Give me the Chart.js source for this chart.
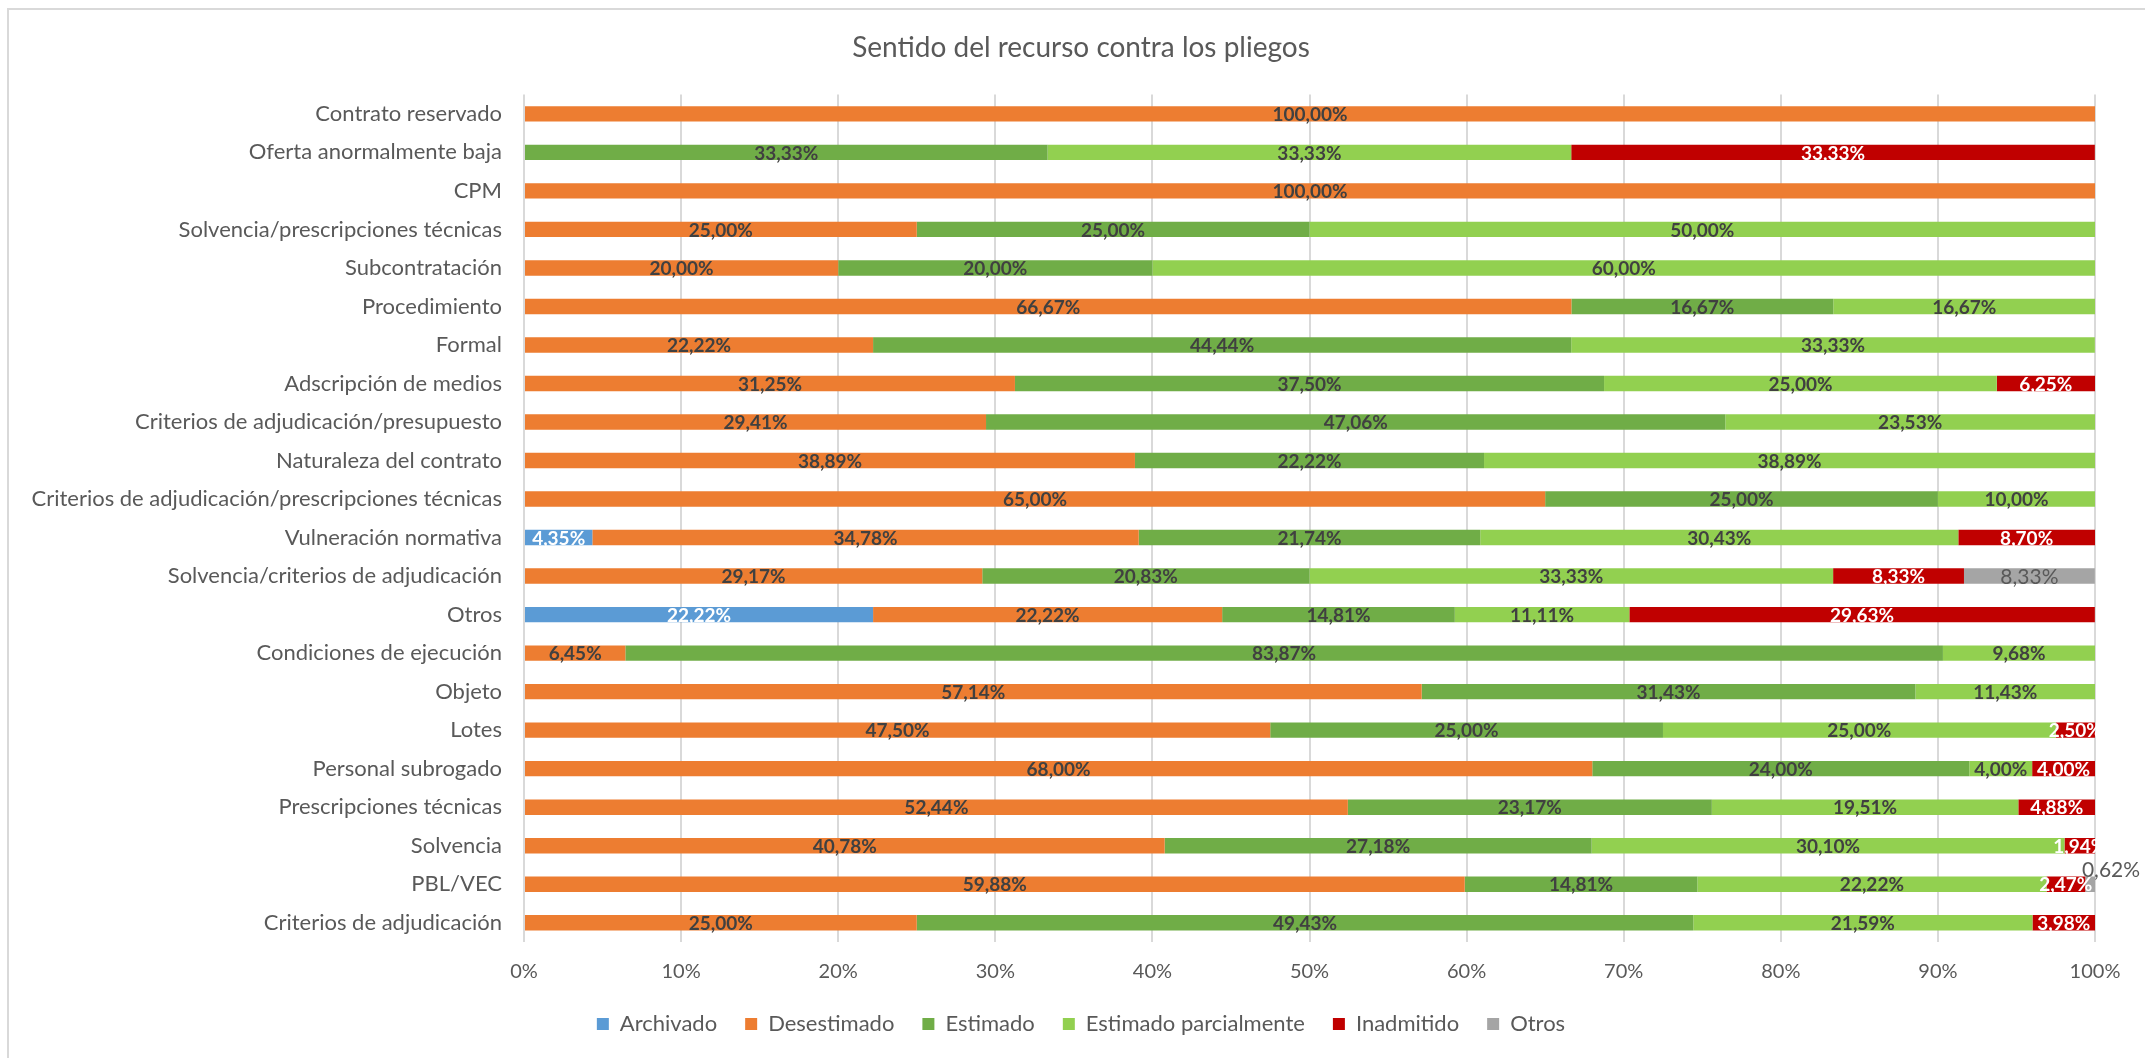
<!DOCTYPE html>
<html>
<head>
<meta charset="utf-8">
<script src="https://cdn.jsdelivr.net/npm/chart.js@4.4.1/dist/chart.umd.min.js"></script>
<style>
	html, body { margin: 0; padding: 0; background: #fff; }
	#marco { position: absolute; left: 7px; top: 8px; width: 2200px; height: 1100px; border-top: 2px solid #d9d9d9; border-left: 2px solid #d9d9d9; }
	#myChart { position: absolute; left: 0; top: 0; }
</style>
</head>
<body>
<div id="marco"></div>
<canvas id="myChart" width="2145" height="1058"></canvas>
<script>
// categorias (de arriba a abajo)
const categorias = [
	'Contrato reservado', 'Oferta anormalmente baja', 'CPM', 'Solvencia/prescripciones técnicas',
	'Subcontratación', 'Procedimiento', 'Formal', 'Adscripción de medios',
	'Criterios de adjudicación/presupuesto', 'Naturaleza del contrato',
	'Criterios de adjudicación/prescripciones técnicas', 'Vulneración normativa',
	'Solvencia/criterios de adjudicación', 'Otros', 'Condiciones de ejecución', 'Objeto',
	'Lotes', 'Personal subrogado', 'Prescripciones técnicas', 'Solvencia', 'PBL/VEC',
	'Criterios de adjudicación'
];

const archivado   = [0, 0, 0, 0, 0, 0, 0, 0, 0, 0, 0, 4.35, 0, 22.22, 0, 0, 0, 0, 0, 0, 0, 0];
const desestimado = [100, 0, 100, 25, 20, 66.67, 22.22, 31.25, 29.41, 38.89, 65, 34.78, 29.17, 22.22, 6.45, 57.14, 47.5, 68, 52.44, 40.78, 59.88, 25];
const estimado    = [0, 33.33, 0, 25, 20, 16.67, 44.44, 37.5, 47.06, 22.22, 25, 21.74, 20.83, 14.81, 83.87, 31.43, 25, 24, 23.17, 27.18, 14.81, 49.43];
const estimadoParcial = [0, 33.33, 0, 50, 60, 16.67, 33.33, 25, 23.53, 38.89, 10, 30.43, 33.33, 11.11, 9.68, 11.43, 25, 4, 19.51, 30.1, 22.22, 21.59];
const inadmitido  = [0, 33.33, 0, 0, 0, 0, 0, 6.25, 0, 0, 0, 8.7, 8.33, 29.63, 0, 0, 2.5, 4, 4.88, 1.94, 2.47, 3.98];
const otros       = [0, 0, 0, 0, 0, 0, 0, 0, 0, 0, 0, 0, 8.33, 0, 0, 0, 0, 0, 0, 0, 0.62, 0];

const ticksX = [0, 10, 20, 30, 40, 50, 60, 70, 80, 90, 100];

const gris = '#595959';

Chart.defaults.font.family = 'Lato';
Chart.defaults.color = gris;

// etiquetas de los segmentos (sin plugin externo)
const etiquetas = {
	id: 'etiquetas',
	afterDatasetsDraw(chart) {
		const ctx = chart.ctx;
		ctx.save();
		ctx.textAlign = 'center';
		ctx.textBaseline = 'middle';
		chart.data.datasets.forEach((ds, i) => {
			const meta = chart.getDatasetMeta(i);
			meta.data.forEach((bar, j) => {
				const v = ds.data[j];
				if (!v) return;
				const txt = v.toFixed(2).replace('.', ',') + '%';
				let x = (bar.x + bar.base) / 2;
				let y = bar.y;
				if (ds.label === 'Otros') {
					ctx.font = '21px Lato';
					ctx.fillStyle = gris;
					if (v < 1) { x = bar.x + 16; y = bar.y - 15; }
				} else {
					ctx.font = 'bold 19px Lato';
					ctx.fillStyle = ds.colorEtiqueta;
				}
				ctx.fillText(txt, x, y + 1);
			});
		});
		ctx.restore();
	}
};

const ctx = document.getElementById('myChart');

new Chart(ctx, {
	type: 'bar',
	data: {
		labels: categorias,
		datasets: [
			{ label: 'Archivado', data: archivado, backgroundColor: '#5B9BD5', colorEtiqueta: '#ffffff' },
			{ label: 'Desestimado', data: desestimado, backgroundColor: '#ED7D31', colorEtiqueta: '#404040' },
			{ label: 'Estimado', data: estimado, backgroundColor: '#70AD47', colorEtiqueta: '#404040' },
			{ label: 'Estimado parcialmente', data: estimadoParcial, backgroundColor: '#92D050', colorEtiqueta: '#404040' },
			{ label: 'Inadmitido', data: inadmitido, backgroundColor: '#C00000', colorEtiqueta: '#ffffff' },
			{ label: 'Otros', data: otros, backgroundColor: '#A5A5A5', colorEtiqueta: gris }
		]
	},
	options: {
		indexAxis: 'y',
		responsive: false,
		animation: false,
		barPercentage: 0.4,
		categoryPercentage: 1,
		layout: { padding: { left: 20, right: 3, top: 0, bottom: 13 } },
		plugins: {
			title: {
				display: true,
				text: 'Sentido del recurso contra los pliegos',
				color: gris,
				font: { size: 28, weight: 'normal' },
				padding: { top: 31, bottom: 30 }
			},
			legend: {
				position: 'bottom',
				labels: { boxWidth: 12, boxHeight: 12, padding: 28, color: gris, font: { size: 22 } }
			},
			tooltip: { enabled: false }
		},
		scales: {
			x: {
				stacked: true,
				min: 0,
				max: 100,
				afterBuildTicks: (scale) => { scale.ticks = ticksX.map(v => ({ value: v })); },
				ticks: { padding: 18, color: gris, font: { size: 20 }, callback: (v) => v + '%' },
				grid: { color: '#d9d9d9', lineWidth: 2, drawTicks: false },
				border: { display: false },
				afterFit: (scale) => { scale.height = 43; }
			},
			y: {
				stacked: true,
				ticks: { padding: 22, color: gris, font: { size: 22 } },
				grid: { display: false, drawTicks: false },
				border: { display: false },
				afterFit: (scale) => { scale.width = 524 - 20; }
			},
			// margen derecho vacío
			yDer: {
				position: 'right',
				display: true,
				ticks: { display: false },
				grid: { display: false, drawTicks: false },
				border: { display: false },
				afterFit: (scale) => { scale.width = 2145 - 3 - 2095; }
			}
		}
	},
	plugins: [etiquetas]
});
</script>
</body>
</html>
